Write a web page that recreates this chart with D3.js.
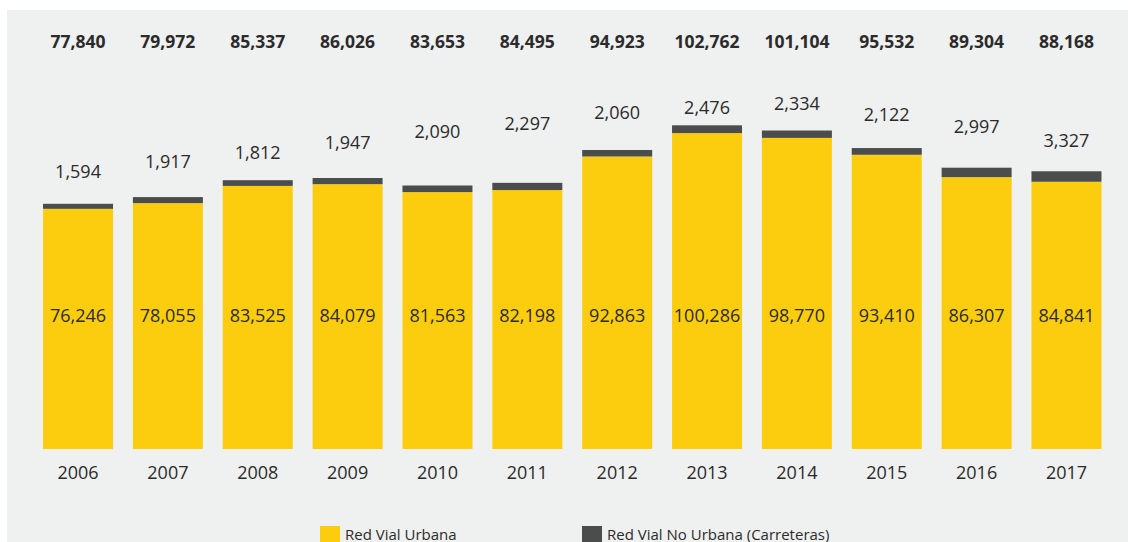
<!doctype html>
<html lang="es">
<head>
  <meta charset="UTF-8">
  <title>Red Vial</title>
  <script src="https://cdn.jsdelivr.net/npm/d3@7"></script>
  <style>
    body { margin: 0; background: #ffffff; }
    text { font-family: "Open Sans", "DejaVu Sans", sans-serif; fill: #2b2b2b; }
  </style>
</head>
<body>
<div id="container"></div>
<script type="text/javascript">
var years = ['2006', '2007', '2008', '2009', '2010', '2011', '2012', '2013', '2014', '2015', '2016', '2017'];
var urbana = [76246, 78055, 83525, 84079, 81563, 82198, 92863, 100286, 98770, 93410, 86307, 84841];
var noUrbana = [1594, 1917, 1812, 1947, 2090, 2297, 2060, 2476, 2334, 2122, 2997, 3327];
var totals = [77840, 79972, 85337, 86026, 83653, 84495, 94923, 102762, 101104, 95532, 89304, 88168];
var seriesNames = ['Red Vial Urbana', 'Red Vial No Urbana (Carreteras)'];
var colors = ['#fccd0f', '#4a4d4c'];
// how far (px) each "no urbana" label sits above its bar, like hand-placed labels
var labelLift = [32, 35, 28, 35, 54, 59, 37, 18, 27, 33, 41, 31];

var width = 1128, height = 542;
var fmt = d3.format(',');

var svg = d3.select('#container').append('svg')
  .attr('width', width)
  .attr('height', height);

// grey panel
svg.append('rect')
  .attr('x', 7).attr('y', 10)
  .attr('width', width - 7).attr('height', height - 10)
  .attr('fill', '#eff0f0');

var x = d3.scaleBand()
  .domain(years)
  .range([33.1, 1111.4])
  .paddingInner(0.221)
  .paddingOuter(0.1105);

var y = d3.scaleLinear()
  .domain([0, 120000])
  .range([449, 449 - 120000 * 323.7 / 102762]);

var rows = years.map(function(yr, i) {
  return { year: yr, urbana: urbana[i], noUrbana: noUrbana[i], total: totals[i], lift: labelLift[i] };
});

var bars = svg.selectAll('.bar').data(rows).enter()
  .append('g').attr('class', 'bar');

bars.append('rect')
  .attr('x', function(d) { return x(d.year); })
  .attr('y', function(d) { return y(d.urbana); })
  .attr('width', x.bandwidth())
  .attr('height', function(d) { return y(0) - y(d.urbana); })
  .attr('fill', colors[0]);

bars.append('rect')
  .attr('x', function(d) { return x(d.year); })
  .attr('y', function(d) { return y(d.urbana + d.noUrbana); })
  .attr('width', x.bandwidth())
  .attr('height', function(d) { return y(d.urbana) - y(d.urbana + d.noUrbana); })
  .attr('fill', colors[1]);

// value inside the yellow part
bars.append('text')
  .attr('x', function(d) { return x(d.year) + x.bandwidth() / 2; })
  .attr('y', 321.5)
  .attr('text-anchor', 'middle')
  .style('font-size', '18px')
  .text(function(d) { return fmt(d.urbana); });

// value above the dark part
bars.append('text')
  .attr('x', function(d) { return x(d.year) + x.bandwidth() / 2; })
  .attr('y', function(d) { return y(d.urbana + d.noUrbana) - d.lift + 6.4; })
  .attr('text-anchor', 'middle')
  .style('font-size', '18px')
  .text(function(d) { return fmt(d.noUrbana); });

// totals row
bars.append('text')
  .attr('x', function(d) { return x(d.year) + x.bandwidth() / 2; })
  .attr('y', 48)
  .attr('text-anchor', 'middle')
  .style('font-size', '17.5px')
  .style('font-weight', 'bold')
  .text(function(d) { return fmt(d.total); });

// year axis
var xAxis = svg.append('g')
  .attr('transform', 'translate(0,' + 449 + ')')
  .call(d3.axisBottom(x).tickSize(0).tickPadding(17));
xAxis.select('.domain').remove();
xAxis.selectAll('text')
  .style('font-size', '18px')
  .style('font-family', '"Open Sans", sans-serif')
  .attr('fill', '#2b2b2b');

// legend
var legendX = [320, 582];
var legend = svg.selectAll('.legend').data(seriesNames).enter()
  .append('g').attr('class', 'legend')
  .attr('transform', function(d, i) { return 'translate(' + legendX[i] + ',526)'; });

legend.append('rect')
  .attr('width', 20).attr('height', 20)
  .attr('fill', function(d, i) { return colors[i]; });

legend.append('text')
  .attr('x', 25).attr('y', 13.5)
  .style('font-size', '15px')
  .text(function(d) { return d; });
</script>
</body>
</html>
